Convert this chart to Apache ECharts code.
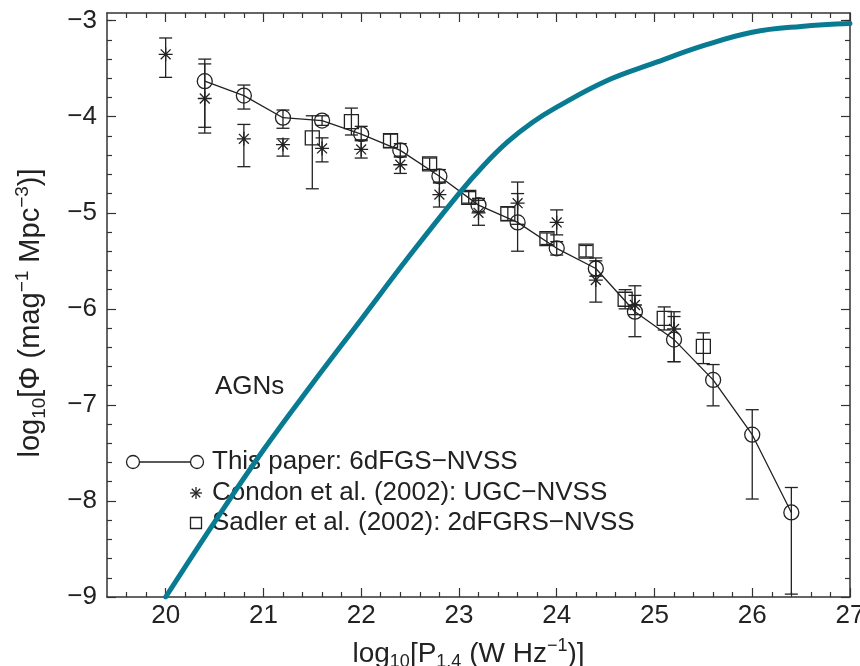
<!DOCTYPE html>
<html>
<head>
<meta charset="utf-8">
<script src="https://cdn.jsdelivr.net/npm/echarts@6/dist/echarts.min.js"></script>
<style>
html,body{margin:0;padding:0;background:#fff;}
#c{width:860px;height:666px;}
</style>
</head>
<body>
<div id="c"></div>
<script>
// ---- data ----
const thisX  = [20.4, 20.8, 21.2, 21.6, 22.0, 22.4, 22.8, 23.2, 23.6, 24.0, 24.4, 24.8, 25.2, 25.6, 26.0, 26.4];
const thisY  = [-3.63, -3.78, -4.01, -4.04, -4.18, -4.35, -4.62, -4.92, -5.10, -5.37, -5.58, -6.03, -6.32, -6.74, -7.31, -8.12];
const thisLo = [-4.11, -3.92, -4.12, -4.09, -4.24, -4.42, -4.69, -4.99, -5.40, -5.44, -5.66, -6.29, -6.55, -7.01, -7.98, -8.97];
const thisHi = [-3.40, -3.67, -3.93, -3.99, -4.10, -4.28, -4.55, -4.85, -4.80, -5.30, -5.50, -5.76, -6.08, -6.58, -7.05, -7.86];

const condonX  = [20.0, 20.4, 20.8, 21.2, 21.6, 22.0, 22.4, 22.8, 23.2, 23.6, 24.0, 24.4, 24.8, 25.2];
const condonY  = [-3.35, -3.81, -4.23, -4.29, -4.33, -4.34, -4.50, -4.81, -5.00, -4.90, -5.10, -5.70, -5.96, -6.21];
const condonLo = [-3.59, -4.17, -4.52, -4.41, -4.47, -4.43, -4.59, -4.94, -5.13, -5.12, -5.23, -5.93, -6.06, -6.55];
const condonHi = [-3.18, -3.45, -4.08, -4.23, -4.22, -4.25, -4.41, -4.68, -4.87, -4.68, -4.97, -5.47, -5.86, -6.03];

const sadlerX  = [21.5, 21.9, 22.3, 22.7, 23.1, 23.5, 23.9, 24.3, 24.7, 25.1, 25.5];
const sadlerY  = [-4.22, -4.05, -4.25, -4.49, -4.84, -5.01, -5.27, -5.40, -5.90, -6.10, -6.39];
const sadlerLo = [-4.75, -4.19, -4.32, -4.55, -4.90, -5.08, -5.33, -5.46, -6.00, -6.22, -6.57];
const sadlerHi = [-3.99, -3.91, -4.18, -4.43, -4.78, -4.94, -5.21, -5.34, -5.80, -5.98, -6.25];

const modelX = [20.0, 20.5, 21.0, 21.5, 22.0, 22.5, 23.0, 23.25, 23.5, 23.75, 24.0, 24.5, 25.0, 25.5, 26.0, 26.5, 27.0];
const modelY = [-9.0, -8.22, -7.47, -6.78, -6.11, -5.44, -4.80, -4.51, -4.26, -4.06, -3.90, -3.63, -3.44, -3.26, -3.12, -3.06, -3.03];

const xMajor = [20, 21, 22, 23, 24, 25, 26, 27];
const xMinor = [19.6, 19.8, 20.2, 20.4, 20.6, 20.8, 21.2, 21.4, 21.6, 21.8, 22.2, 22.4, 22.6, 22.8, 23.2, 23.4, 23.6, 23.8, 24.2, 24.4, 24.6, 24.8, 25.2, 25.4, 25.6, 25.8, 26.2, 26.4, 26.6, 26.8];
const yMajor = [-9, -8, -7, -6, -5, -4, -3];
const yMinor = [-8.8, -8.6, -8.4, -8.2, -7.8, -7.6, -7.4, -7.2, -6.8, -6.6, -6.4, -6.2, -5.8, -5.6, -5.4, -5.2, -4.8, -4.6, -4.4, -4.2, -3.8, -3.6, -3.4, -3.2, -3.0];

const legendNames = ['This paper: 6dFGS\u2212NVSS', 'Condon et al. (2002): UGC\u2212NVSS', 'Sadler et al. (2002): 2dFGRS\u2212NVSS'];
const panelLabel = 'AGNs';

// ---- styling ----
const FONT = 'Liberation Sans, Arial, Helvetica, sans-serif';
const FS = 26;
const INK = '#222';
const TEAL = '#087b93';
const ASTER = 'path://M0,-10L0,10M-10,0L10,0M-7.07,-7.07L7.07,7.07M-7.07,7.07L7.07,-7.07';

const pairs = (xs, ys) => xs.map((x, i) => [x, ys[i]]);
const triples = (xs, lo, hi) => xs.map((x, i) => [x, lo[i], hi[i]]);
const minus = v => String(v).replace('-', '\u2212');

function errRender(params, api) {
  const x = api.value(0);
  const p1 = api.coord([x, api.value(1)]);
  const p2 = api.coord([x, api.value(2)]);
  const w = 6.5;
  const st = { stroke: INK, lineWidth: 1.3, fill: null };
  return {
    type: 'group',
    children: [
      { type: 'line', shape: { x1: p1[0], y1: p1[1], x2: p2[0], y2: p2[1] }, style: st },
      { type: 'line', shape: { x1: p1[0] - w, y1: p1[1], x2: p1[0] + w, y2: p1[1] }, style: st },
      { type: 'line', shape: { x1: p2[0] - w, y1: p2[1], x2: p2[0] + w, y2: p2[1] }, style: st }
    ]
  };
}

const axLine = { show: true, lineStyle: { color: '#333', width: 1.5 } };
const tickStyle = { color: '#333', width: 1.2 };
const richX = {
  sub: { fontSize: 18, verticalAlign: 'bottom', lineHeight: 18, fontFamily: FONT, color: INK },
  sup: { fontSize: 18, verticalAlign: 'top', lineHeight: 18, fontFamily: FONT, color: INK }
};
const richY = {
  sub: { fontSize: 19, verticalAlign: 'bottom', lineHeight: 19, fontFamily: FONT, color: INK },
  sup: { fontSize: 19, verticalAlign: 'top', lineHeight: 19, fontFamily: FONT, color: INK }
};

function xAx(pos, vals, len, labels, extra) {
  return Object.assign({
    type: 'value', position: pos, min: 19.4, max: 27,
    axisLine: labels !== null ? axLine : { show: false },
    axisTick: { show: true, inside: true, length: len, customValues: vals, lineStyle: tickStyle },
    axisLabel: labels ? { show: true, customValues: vals, fontSize: FS, color: INK, fontFamily: FONT, margin: 6, formatter: minus } : { show: false },
    splitLine: { show: false }
  }, extra || {});
}
function yAx(pos, vals, len, labels, extra) {
  return Object.assign({
    type: 'value', position: pos, min: -9, max: -2.92,
    axisLine: labels !== null ? axLine : { show: false },
    axisTick: { show: true, inside: true, length: len, customValues: vals, lineStyle: tickStyle },
    axisLabel: labels ? { show: true, customValues: vals, fontSize: FS, color: INK, fontFamily: FONT, margin: 10, formatter: minus } : { show: false },
    splitLine: { show: false }
  }, extra || {});
}

const txt = (x, y, s) => ({ type: 'text', x: x, y: y, z: 5, style: { text: s, fontSize: FS, fill: INK, fontFamily: FONT, verticalAlign: 'middle' } });
const seg = (x1, y1, x2, y2) => ({ type: 'line', z: 5, shape: { x1: x1, y1: y1, x2: x2, y2: y2 }, style: { stroke: INK, lineWidth: 1.3 } });

const option = {
  backgroundColor: '#fff',
  animation: false,
  grid: { left: 107, right: 10, top: 13, bottom: 69, containLabel: false, outerBoundsMode: 'none' },
  xAxis: [
    xAx('bottom', xMajor, 9, true, {
      name: 'log{sub|10}[P{sub|1.4} (W Hz{sup|\u22121})]',
      nameLocation: 'middle', nameGap: 40,
      nameTextStyle: { fontSize: 28, color: INK, fontFamily: FONT, lineHeight: 34, rich: richX, padding: [0, 20, 0, 0] }
    }),
    xAx('bottom', xMinor, 5, null),
    xAx('top', xMajor, 9, false),
    xAx('top', xMinor, 5, null)
  ],
  yAxis: [
    yAx('left', yMajor, 9, true, {
      name: 'log{sub|10}[\u03A6 (mag{sup|\u22121} Mpc{sup|\u22123})]',
      nameLocation: 'middle', nameGap: 58, nameRotate: 90,
      nameTextStyle: { fontSize: 29, color: INK, fontFamily: FONT, lineHeight: 36, rich: richY, padding: [0, 16, 0, 0] }
    }),
    yAx('left', yMinor, 5, null),
    yAx('right', yMajor, 9, false),
    yAx('right', yMinor, 5, null)
  ],
  series: [
    { type: 'custom', name: 'errThis', renderItem: errRender, data: triples(thisX, thisLo, thisHi), z: 3, silent: true },
    { type: 'custom', name: 'errCondon', renderItem: errRender, data: triples(condonX, condonLo, condonHi), z: 3, silent: true },
    { type: 'custom', name: 'errSadler', renderItem: errRender, data: triples(sadlerX, sadlerLo, sadlerHi), z: 3, silent: true },
    {
      type: 'line', name: legendNames[0], data: pairs(thisX, thisY), z: 4,
      symbol: 'circle', symbolSize: 15, showSymbol: true,
      lineStyle: { color: INK, width: 1.3 },
      itemStyle: { color: 'rgba(0,0,0,0)', borderColor: INK, borderWidth: 1.3 }
    },
    {
      type: 'scatter', name: legendNames[1], data: pairs(condonX, condonY), z: 4,
      symbol: ASTER, symbolSize: 14, symbolKeepAspect: true,
      itemStyle: { color: 'rgba(0,0,0,0)', borderColor: INK, borderWidth: 1.3, opacity: 1 }
    },
    {
      type: 'scatter', name: legendNames[2], data: pairs(sadlerX, sadlerY), z: 4,
      symbol: 'rect', symbolSize: 14,
      itemStyle: { color: 'rgba(0,0,0,0)', borderColor: INK, borderWidth: 1.3, opacity: 1 }
    },
    {
      type: 'line', name: 'model', data: pairs(modelX, modelY), z: 10,
      smooth: 0.4, showSymbol: false, symbol: 'none',
      lineStyle: { color: TEAL, width: 5, cap: 'round' }
    }
  ],
  graphic: [
    txt(215, 387, panelLabel),
    seg(133, 462, 197, 462),
    { type: 'circle', z: 5, shape: { cx: 133, cy: 462, r: 6.5 }, style: { fill: '#fff', stroke: INK, lineWidth: 1.3 } },
    { type: 'circle', z: 5, shape: { cx: 197, cy: 462, r: 6.5 }, style: { fill: '#fff', stroke: INK, lineWidth: 1.3 } },
    txt(212, 462, legendNames[0]),
    seg(196, 487, 196, 499), seg(190, 493, 202, 493), seg(191.8, 488.8, 200.2, 497.2), seg(191.8, 497.2, 200.2, 488.8),
    txt(212, 493, legendNames[1]),
    { type: 'rect', z: 5, shape: { x: 190.5, y: 517.5, width: 11, height: 11 }, style: { fill: 'rgba(0,0,0,0)', stroke: INK, lineWidth: 1.3 } },
    txt(212, 523, legendNames[2])
  ]
};

const chart = echarts.init(document.getElementById('c'), null, { renderer: 'canvas' });
chart.setOption(option);
</script>
</body>
</html>
